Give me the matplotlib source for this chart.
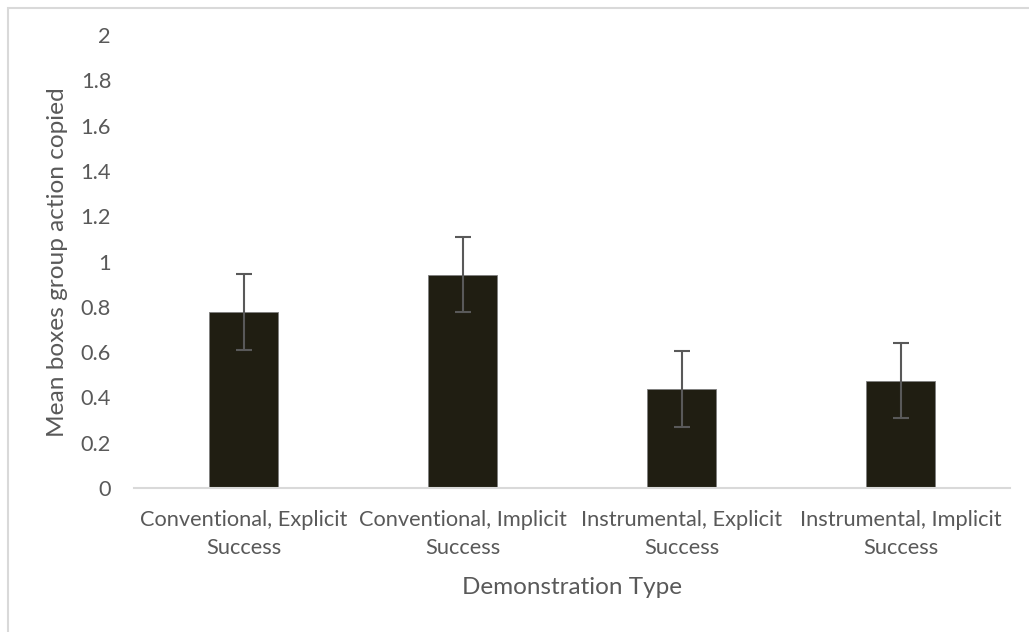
import matplotlib
matplotlib.use("Agg")
import matplotlib.pyplot as plt
from matplotlib.patches import Rectangle

categories = ["Conventional, Explicit\nSuccess", "Conventional, Implicit\nSuccess",
              "Instrumental, Explicit\nSuccess", "Instrumental, Implicit\nSuccess"]
means = [0.776, 0.942, 0.436, 0.474]
errors = [0.167, 0.166, 0.168, 0.167]
y_ticks = [0, 0.2, 0.4, 0.6, 0.8, 1, 1.2, 1.4, 1.6, 1.8, 2]
y_tick_labels = ["0", "0.2", "0.4", "0.6", "0.8", "1", "1.2", "1.4", "1.6", "1.8", "2"]

W, H = 1029, 632
fig = plt.figure(figsize=(W / 100, H / 100), dpi=100)
plt.rcParams['font.family'] = ['Lato', 'DejaVu Sans']
txt = "#595959"

# outer chart border (top/left visible)
fig.patches.append(Rectangle((7.5 / W, -0.05), 1.1, (H - 7.5) / H + 0.05,
                             transform=fig.transFigure, fill=False,
                             edgecolor="#d9d9d9", linewidth=1.5))

ax = fig.add_axes([134 / W, 1 - 488 / H, (1010 - 134) / W, (488 - 35) / H])
x = list(range(len(categories)))
ax.bar(x, means, width=0.315, color="#201e12", edgecolor="#7f7f7f", linewidth=0.6, zorder=2)
ax.errorbar(x, means, yerr=errors, fmt="none", ecolor="#595959", elinewidth=1.5,
            capsize=5.5, capthick=1.5, zorder=3)

ax.set_xlim(-0.5, 3.5)
ax.set_ylim(0, 2)
ax.set_yticks(y_ticks)
ax.set_yticklabels(y_tick_labels)
ax.set_xticks(x)
ax.set_xticklabels(categories, linespacing=1.55)
ax.tick_params(axis="both", length=0, labelsize=15.7, colors=txt)
ax.tick_params(axis="y", pad=16.5)
ax.tick_params(axis="x", pad=15.5)
for s in ["top", "right", "left"]:
    ax.spines[s].set_visible(False)
ax.spines["bottom"].set_color("#d9d9d9")
ax.spines["bottom"].set_linewidth(1.5)

fig.text(58 / W, 1 - 262 / H, "Mean boxes group action copied", rotation=90,
         ha="center", va="center", fontsize=17.6, color=txt)
fig.text(572 / W, 1 - 587 / H, "Demonstration Type",
         ha="center", va="center", fontsize=17.5, color=txt)

fig.savefig("out.png", dpi=100, facecolor="white")
